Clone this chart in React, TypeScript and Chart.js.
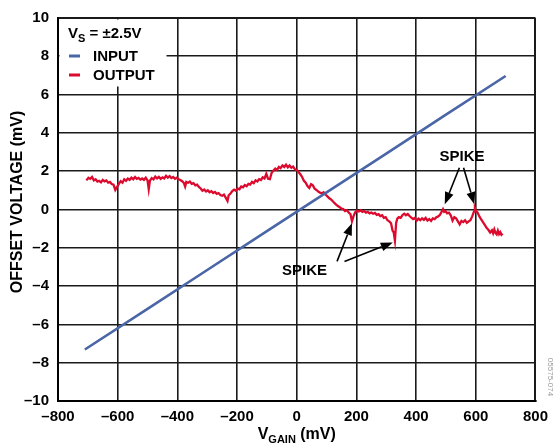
import React, { useEffect, useRef } from "react";
import { Chart, registerables } from "chart.js";

Chart.register(...registerables);

const xTickValues = [-800, -600, -400, -200, 0, 200, 400, 600, 800];
const yTickValues = [-10, -8, -6, -4, -2, 0, 2, 4, 6, 8, 10];

const inputX = [-710, -500, -300, -100, 100, 300, 500, 700];
const inputY = [-7.31, -5.19, -3.16, -1.13, 0.89, 2.92, 4.95, 6.97];

const outputX = [
  -705, -698, -692, -686, -680, -674, -668, -662, -656, -650, -644, -638, -632, -626, -620, -614, -608, -602, -596, -590,
  -584, -578, -572, -566, -560, -554, -548, -542, -536, -530, -524, -518, -512, -506, -500, -496, -492, -486, -480, -474,
  -468, -462, -456, -450, -444, -438, -432, -426, -420, -414, -408, -402, -396, -390, -384, -378, -374, -370, -364, -358,
  -352, -346, -340, -334, -328, -322, -316, -310, -304, -298, -292, -286, -280, -274, -268, -262, -256, -250, -244, -238,
  -232, -228, -222, -216, -210, -204, -198, -192, -186, -180, -174, -168, -162, -156, -150, -144, -138, -132, -126, -120,
  -114, -108, -102, -96, -90, -84, -78, -72, -66, -60, -54, -48, -42, -36, -30, -24, -18, -12, -6, 0,
  6, 12, 18, 24, 30, 36, 42, 48, 54, 60, 66, 72, 78, 84, 90, 96, 102, 108, 114, 120,
  126, 132, 138, 144, 150, 156, 162, 168, 174, 180, 185, 190, 196, 202, 208, 214, 220, 226, 232, 238,
  244, 250, 256, 262, 268, 274, 280, 286, 292, 298, 304, 310, 316, 321, 325, 329, 333, 337, 342, 348,
  354, 360, 366, 372, 378, 384, 390, 396, 402, 408, 414, 420, 426, 432, 438, 444, 450, 456, 462, 468,
  474, 480, 486, 490, 494, 498, 504, 510, 516, 522, 528, 534, 540, 546, 552, 558, 564, 570, 576, 582,
  588, 594, 597, 600, 606, 612, 618, 624, 630, 636, 642, 648, 654, 658, 662, 666, 670, 674, 678, 682,
  686, 690,
];
const outputY = [
  1.52, 1.66, 1.6, 1.7, 1.52, 1.58, 1.46, 1.5, 1.42, 1.55, 1.47, 1.52, 1.4, 1.44, 1.33, 1.3, 1.02, 1.18, 1.34, 1.48,
  1.4, 1.58, 1.5, 1.62, 1.55, 1.66, 1.58, 1.7, 1.6, 1.65, 1.56, 1.62, 1.55, 1.66, 1.52, 1.06, 1.5, 1.64, 1.57, 1.72,
  1.62, 1.7, 1.6, 1.68, 1.62, 1.76, 1.66, 1.74, 1.64, 1.7, 1.6, 1.66, 1.58, 1.54, 1.48, 1.38, 1.2, 1.44, 1.4, 1.46,
  1.34, 1.38, 1.26, 1.3, 1.18, 1.1, 0.98, 1.04, 0.94, 1.0, 0.9, 0.96, 0.86, 0.92, 0.82, 0.86, 0.76, 0.72, 0.78, 0.62,
  0.45, 0.74, 0.84, 0.96, 1.04, 0.98, 1.1, 1.06, 1.2, 1.16, 1.28, 1.22, 1.34, 1.3, 1.44, 1.38, 1.52, 1.46, 1.58, 1.54,
  1.68, 1.62, 1.86, 1.6, 1.58, 1.92, 2.04, 2.14, 2.06, 2.22, 2.16, 2.3, 2.22, 2.34, 2.2, 2.3, 2.18, 2.24, 2.1, 2.06,
  1.96, 1.84, 1.7, 1.5, 1.4, 1.22, 1.12, 1.32, 1.26, 1.08, 1.02, 0.94, 0.88, 0.84, 0.9, 0.78, 0.7, 0.6, 0.54, 0.44,
  0.34, 0.26, 0.18, 0.12, 0.04, 0.02, -0.08, -0.04, -0.16, -0.24, -0.62, -0.36, -0.14, -0.06, -0.1, -0.04, -0.12, -0.08, -0.16, -0.12,
  -0.2, -0.16, -0.22, -0.18, -0.28, -0.24, -0.34, -0.3, -0.44, -0.4, -0.56, -0.62, -0.72, -1.1, -1.2, -1.62, -0.7, -0.48, -0.4, -0.44,
  -0.3, -0.22, -0.3, -0.24, -0.34, -0.42, -0.5, -0.44, -0.58, -0.48, -0.56, -0.46, -0.54, -0.44, -0.58, -0.5, -0.6, -0.46, -0.5, -0.4,
  -0.36, -0.28, -0.1, 0.02, -0.12, -0.08, -0.2, -0.16, -0.3, -0.58, -0.4, -0.46, -0.62, -0.78, -0.6, -0.66, -0.56, -0.7, -0.62, -0.56,
  -0.36, -0.1, 0.07, -0.06, -0.16, -0.36, -0.52, -0.66, -0.8, -0.96, -1.06, -1.2, -1.08, -1.24, -1.04, -1.22, -1.3, -1.1, -1.28, -1.18,
  -1.32, -1.26,
];

// annotation labels and arrows in data units
const spikeLabels = [
  { text: "SPIKE", x: 26, y: -3.18 },
  { text: "SPIKE", x: 554, y: 2.73 },
];
const spikeArrows = [
  { x0: 135, y0: -2.71, x1: 185, y1: -0.72 },
  { x0: 160, y0: -2.71, x1: 322, y1: -1.72 },
  { x0: 545, y0: 2.18, x1: 496, y1: 0.28 },
  { x0: 559, y0: 2.18, x1: 595, y1: 0.28 },
];

const FONT = "'Liberation Sans', Arial, Helvetica, sans-serif";
const BLUE = "#4a66a6";
const RED = "#dc0a2e";

const dash = (v: number) => String(v).replace("-", "\u2013");

const overlayPlugin = {
  id: "overlay",
  afterDraw(chart: any) {
    const ctx = chart.ctx as CanvasRenderingContext2D;
    const area = chart.chartArea;
    const xs = chart.scales.x;
    const ys = chart.scales.y;
    ctx.save();

    // legend box
    ctx.fillStyle = "#fff";
    ctx.fillRect(area.left + 1.5, area.top + 1.5, 107, 67);
    ctx.fillStyle = "#000";
    ctx.textBaseline = "alphabetic";
    ctx.textAlign = "left";
    let lx = area.left + 10;
    ctx.font = `bold 15px ${FONT}`;
    ctx.fillText("V", lx, area.top + 20);
    lx += ctx.measureText("V").width;
    ctx.font = `bold 11px ${FONT}`;
    ctx.fillText("S", lx, area.top + 24);
    lx += ctx.measureText("S").width;
    ctx.font = `bold 15px ${FONT}`;
    ctx.fillText(" = \u00b12.5V", lx, area.top + 20);

    ctx.lineWidth = 3;
    ctx.strokeStyle = BLUE;
    ctx.beginPath();
    ctx.moveTo(area.left + 11, area.top + 38);
    ctx.lineTo(area.left + 22, area.top + 38);
    ctx.stroke();
    ctx.strokeStyle = RED;
    ctx.beginPath();
    ctx.moveTo(area.left + 11, area.top + 57);
    ctx.lineTo(area.left + 22, area.top + 57);
    ctx.stroke();
    ctx.textBaseline = "middle";
    ctx.fillText("INPUT", area.left + 35, area.top + 38.5);
    ctx.fillText("OUTPUT", area.left + 35, area.top + 57.5);

    // spike annotations
    ctx.textAlign = "center";
    ctx.textBaseline = "middle";
    for (const l of spikeLabels) {
      ctx.fillText(l.text, xs.getPixelForValue(l.x), ys.getPixelForValue(l.y));
    }
    ctx.strokeStyle = "#000";
    ctx.lineWidth = 1.6;
    for (const a of spikeArrows) {
      const px0 = xs.getPixelForValue(a.x0);
      const py0 = ys.getPixelForValue(a.y0);
      const px1 = xs.getPixelForValue(a.x1);
      const py1 = ys.getPixelForValue(a.y1);
      const ang = Math.atan2(py1 - py0, px1 - px0);
      const hl = 12;
      const hw = 4.5;
      const bx = px1 - hl * Math.cos(ang);
      const by = py1 - hl * Math.sin(ang);
      ctx.beginPath();
      ctx.moveTo(px0, py0);
      ctx.lineTo(bx, by);
      ctx.stroke();
      ctx.beginPath();
      ctx.moveTo(px1, py1);
      ctx.lineTo(bx + hw * Math.sin(ang), by - hw * Math.cos(ang));
      ctx.lineTo(bx - hw * Math.sin(ang), by + hw * Math.cos(ang));
      ctx.closePath();
      ctx.fillStyle = "#000";
      ctx.fill();
    }

    // axis titles
    ctx.fillStyle = "#000";
    ctx.textBaseline = "alphabetic";
    ctx.textAlign = "left";
    const xParts: [string, number, number][] = [
      ["V", 16, 0],
      ["GAIN", 11, 4],
      [" (mV)", 16, 0],
    ];
    let total = 0;
    for (const [t, s] of xParts) {
      ctx.font = `bold ${s}px ${FONT}`;
      total += ctx.measureText(t).width;
    }
    let tx = (area.left + area.right) / 2 - total / 2;
    const tyBase = 439;
    for (const [t, s, off] of xParts) {
      ctx.font = `bold ${s}px ${FONT}`;
      ctx.fillText(t, tx, tyBase + off);
      tx += ctx.measureText(t).width;
    }

    ctx.save();
    ctx.translate(22, 202);
    ctx.rotate(-Math.PI / 2);
    ctx.textAlign = "center";
    ctx.font = `bold 16px ${FONT}`;
    ctx.fillText("OFFSET VOLTAGE (mV)", 0, 0);
    ctx.restore();

    // figure number
    ctx.save();
    ctx.translate(550, 377);
    ctx.rotate(Math.PI / 2);
    ctx.textAlign = "center";
    ctx.textBaseline = "middle";
    ctx.fillStyle = "#999";
    ctx.font = `8px ${FONT}`;
    ctx.fillText("05575-074", 0, 0);
    ctx.restore();

    ctx.restore();
  },
};

export default function App() {
  const canvasRef = useRef<HTMLCanvasElement | null>(null);

  useEffect(() => {
    if (!canvasRef.current) return;
    const gridWidth = (c: any) => {
      const v = c.tick?.value;
      return v === 800 || v === 10 ? 2 : 1.6;
    };
    const chart = new Chart(canvasRef.current, {
      type: "scatter",
      data: {
        datasets: [
          {
            label: "INPUT",
            data: inputX.map((x, i) => ({ x, y: inputY[i] })),
            showLine: true,
            borderColor: BLUE,
            borderWidth: 2.6,
            pointRadius: 0,
            tension: 0,
          },
          {
            label: "OUTPUT",
            data: outputX.map((x, i) => ({ x, y: outputY[i] })),
            showLine: true,
            borderColor: RED,
            borderWidth: 2.3,
            pointRadius: 0,
            tension: 0,
          },
        ],
      },
      options: {
        animation: false,
        responsive: false,
        layout: { padding: { top: 16, right: 15, left: 0, bottom: 0 } },
        plugins: { legend: { display: false }, tooltip: { enabled: false } },
        scales: {
          x: {
            type: "linear",
            min: -800,
            max: 800,
            afterBuildTicks: (s: any) => {
              s.ticks = xTickValues.map((v) => ({ value: v }));
            },
            afterFit: (s: any) => {
              s.height = 45;
            },
            ticks: {
              autoSkip: false,
              maxRotation: 0,
              padding: 7,
              color: "#000",
              font: { family: FONT, size: 15, weight: "bold" },
              callback: (v: any) => dash(v),
            },
            grid: { color: "#1a1a1a", lineWidth: gridWidth, drawTicks: false },
            border: { color: "#000", width: 2 },
          },
          y: {
            type: "linear",
            min: -10,
            max: 10,
            afterBuildTicks: (s: any) => {
              s.ticks = yTickValues.map((v) => ({ value: v }));
            },
            afterFit: (s: any) => {
              s.width = 58;
            },
            ticks: {
              autoSkip: false,
              padding: 9,
              color: "#000",
              font: { family: FONT, size: 15, weight: "bold" },
              callback: (v: any) => dash(v),
            },
            grid: { color: "#1a1a1a", lineWidth: gridWidth, drawTicks: false },
            border: { color: "#000", width: 2 },
          },
        },
      } as any,
      plugins: [overlayPlugin],
    });
    return () => chart.destroy();
  }, []);

  return (
    <div style={{ position: "fixed", left: 0, top: 0, width: 555, height: 446, background: "#fff" }}>
      <canvas ref={canvasRef} width={555} height={446} style={{ display: "block" }} />
    </div>
  );
}
